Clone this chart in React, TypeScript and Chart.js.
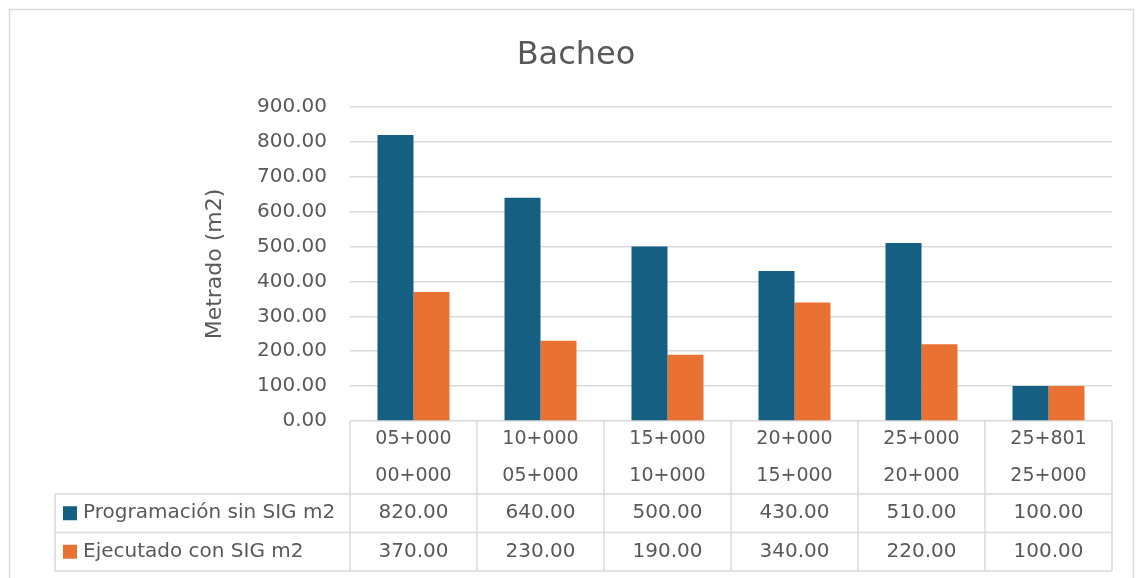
import React, { useEffect, useRef } from "react";
import { Chart, registerables } from "chart.js";

Chart.register(...registerables);

const titleText = "Bacheo";
const yAxisTitle = "Metrado (m2)";
const categoryTop = ["05+000", "10+000", "15+000", "20+000", "25+000", "25+801"];
const categoryBottom = ["00+000", "05+000", "10+000", "15+000", "20+000", "25+000"];
const seriesNames = ["Programación sin SIG m2", "Ejecutado con SIG m2"];
const programado = [820, 640, 500, 430, 510, 100];
const ejecutado = [370, 230, 190, 340, 220, 100];
const seriesColors = ["#156082", "#E97132"];
const yMin = 0;
const yMax = 900;
const yStep = 100;

const FONT = "'DejaVu Sans', sans-serif";
const TEXT = "#595959";
const LINE = "#D9D9D9";

const framePlugin = {
  id: "frame",
  beforeDraw(chart: any) {
    const { ctx, width, height } = chart;
    ctx.save();
    ctx.fillStyle = "#ffffff";
    ctx.fillRect(0, 0, width, height);
    ctx.strokeStyle = LINE;
    ctx.lineWidth = 1.5;
    ctx.strokeRect(9.5, 9.5, width - 12, height + 20);
    ctx.restore();
  },
};

const tablePlugin = {
  id: "dataTable",
  afterDraw(chart: any) {
    const { ctx, chartArea } = chart;
    const xs = chart.scales.x;
    const labels = chart.data.labels as string[][];
    const n = labels.length;
    const colW = (chartArea.right - chartArea.left) / n;
    const top = chartArea.bottom;
    const headerBottom = top + 73;
    const rowH = 38.5;
    const tableLeft = 55;
    const rowsBottom = headerBottom + rowH * chart.data.datasets.length;

    ctx.save();
    ctx.strokeStyle = LINE;
    ctx.lineWidth = 1.5;
    ctx.beginPath();
    const ys = [headerBottom];
    chart.data.datasets.forEach((_: any, i: number) => ys.push(headerBottom + rowH * (i + 1)));
    ys.forEach((y) => {
      ctx.moveTo(tableLeft, y);
      ctx.lineTo(chartArea.right, y);
    });
    for (let i = 0; i <= n; i++) {
      const x = chartArea.left + colW * i;
      ctx.moveTo(x, top);
      ctx.lineTo(x, rowsBottom);
    }
    ctx.moveTo(tableLeft, headerBottom);
    ctx.lineTo(tableLeft, rowsBottom);
    ctx.stroke();

    ctx.fillStyle = TEXT;
    ctx.textAlign = "center";
    ctx.textBaseline = "middle";
    ctx.font = `19px ${FONT}`;
    labels.forEach((lab, i) => {
      const cx = xs.getPixelForValue(i);
      ctx.fillText(lab[0], cx, top + 18);
      ctx.fillText(lab[1], cx, top + 55);
    });

    ctx.font = `20px ${FONT}`;
    chart.data.datasets.forEach((ds: any, r: number) => {
      const cy = headerBottom + rowH * r + rowH / 2;
      ctx.textAlign = "center";
      ds.data.forEach((v: number, i: number) => {
        ctx.fillText(v.toFixed(2), xs.getPixelForValue(i), cy);
      });
      ctx.fillStyle = ds.backgroundColor;
      ctx.fillRect(63, cy - 7, 14, 14);
      ctx.fillStyle = TEXT;
      ctx.textAlign = "left";
      ctx.fillText(ds.label, 83, cy);
    });
    ctx.restore();
  },
};

export default function App() {
  const ref = useRef<HTMLCanvasElement | null>(null);

  useEffect(() => {
    if (!ref.current) return;
    const chart = new Chart(ref.current, {
      type: "bar",
      data: {
        labels: categoryTop.map((t, i) => [t, categoryBottom[i]]),
        datasets: [
          {
            label: seriesNames[0],
            data: programado,
            backgroundColor: seriesColors[0],
            categoryPercentage: 0.567,
            barPercentage: 1,
          },
          {
            label: seriesNames[1],
            data: ejecutado,
            backgroundColor: seriesColors[1],
            categoryPercentage: 0.567,
            barPercentage: 1,
          },
        ],
      },
      options: {
        responsive: false,
        maintainAspectRatio: false,
        animation: false,
        layout: { padding: { left: 40, right: 24, top: 0, bottom: 0 } },
        plugins: {
          legend: { display: false },
          tooltip: { enabled: false },
          title: {
            display: true,
            text: titleText,
            color: TEXT,
            font: { family: FONT, size: 32, weight: "normal" },
            padding: { top: 36, bottom: 32.6 },
          },
        },
        scales: {
          x: {
            ticks: { display: false },
            grid: { display: false },
            border: { display: false },
            afterFit: (s: any) => {
              s.height = 157;
            },
          },
          y: {
            min: yMin,
            max: yMax,
            ticks: {
              stepSize: yStep,
              color: TEXT,
              padding: 23,
              font: { family: FONT, size: 20 },
              callback: (v: any) => Number(v).toFixed(2),
            },
            grid: { color: LINE, lineWidth: 1.5, drawTicks: false },
            border: { display: false },
            title: {
              display: true,
              text: yAxisTitle,
              color: TEXT,
              font: { family: FONT, size: 22 },
              padding: { top: 162, bottom: 0 },
            },
            afterFit: (s: any) => {
              s.width = 310;
            },
          },
        },
      },
      plugins: [framePlugin, tablePlugin],
    });
    return () => chart.destroy();
  }, []);

  return (
    <div style={{ position: "absolute", left: 0, top: 0, width: 1136, height: 578 }}>
      <canvas ref={ref} width={1136} height={578} style={{ display: "block" }} />
    </div>
  );
}
